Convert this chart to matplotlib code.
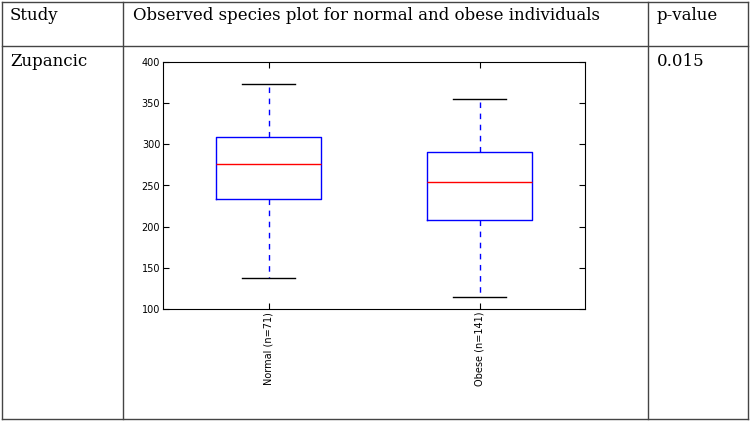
import matplotlib
matplotlib.use('Agg')
import matplotlib.pyplot as plt
from matplotlib.lines import Line2D

# --- data ---
groups = ["Normal (n=71)", "Obese (n=141)"]
whislo = [137.5, 114.5]
q1 = [233.5, 207.6]
med = [276.5, 254.6]
q3 = [308.5, 290.6]
whishi = [373.0, 354.6]
y_ticks = [100, 150, 200, 250, 300, 350, 400]

header = ["Study", "Observed species plot for normal and obese individuals", "p-value"]
study = "Zupancic"
p_value = "0.015"

W, H = 750, 422
fig = plt.figure(figsize=(W / 100, H / 100), dpi=100, facecolor='white')

def fx(px):
    return px / W

def fy(py):
    return 1 - py / H

# --- table grid ---
grid_col = '#444444'
for x in [2, 123, 648, 748]:
    fig.add_artist(Line2D([fx(x), fx(x)], [fy(2), fy(419)], color=grid_col, lw=1.0))
for y in [2, 46, 419]:
    fig.add_artist(Line2D([fx(2), fx(748)], [fy(y), fy(y)], color=grid_col, lw=1.0))

serif = 'DejaVu Serif'
fs = 12
fig.text(fx(10), fy(16), header[0], family=serif, fontsize=fs, va='center', ha='left')
fig.text(fx(133), fy(16), header[1], family=serif, fontsize=fs, va='center', ha='left')
fig.text(fx(657), fy(16), header[2], family=serif, fontsize=fs, va='center', ha='left')
fig.text(fx(10), fy(61), study, family=serif, fontsize=fs, va='center', ha='left')
fig.text(fx(657), fy(61), p_value, family=serif, fontsize=fs, va='center', ha='left')

# --- box plot ---
ax = fig.add_axes([fx(163), fy(309), fx(585) - fx(163), fy(62) - fy(309)])
stats = []
for i, g in enumerate(groups):
    stats.append(dict(label=g, whislo=whislo[i], q1=q1[i], med=med[i],
                      q3=q3[i], whishi=whishi[i], fliers=[]))
ax.bxp(stats, positions=[1, 2], widths=0.5, showfliers=False,
       boxprops=dict(color='blue', lw=1.0),
       whiskerprops=dict(color='blue', lw=1.0, linestyle='--', dashes=(4, 4)),
       capprops=dict(color='black', lw=1.0),
       medianprops=dict(color='red', lw=1.0))
ax.set_xlim(0.5, 2.5)
ax.set_ylim(100, 400)
ax.set_yticks(y_ticks)
ax.set_xticks([1, 2])
ax.set_xticklabels(groups, rotation=90, fontsize=7)
ax.tick_params(axis='y', labelsize=7, direction='in', right=True, length=4, pad=2)
ax.tick_params(axis='x', direction='in', top=True, length=4, pad=2)
for s in ax.spines.values():
    s.set_linewidth(0.8)

fig.savefig('out.png', dpi=100, facecolor='white')
